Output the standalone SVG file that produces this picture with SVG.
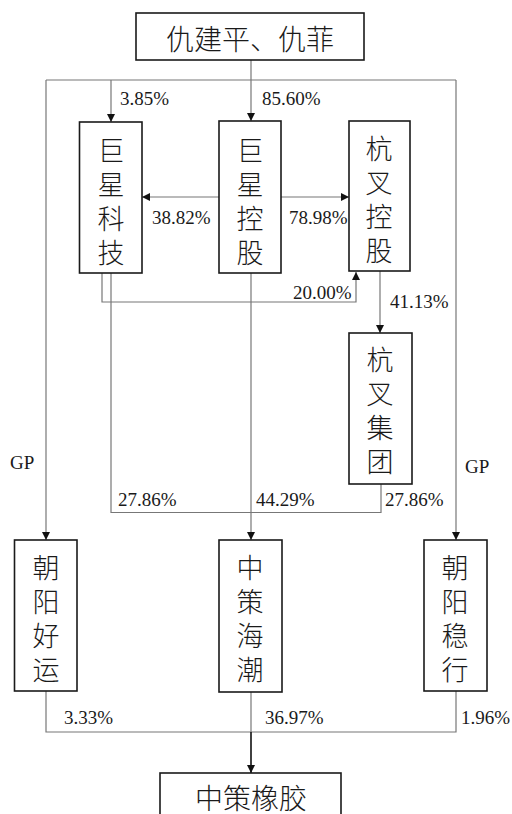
<svg xmlns="http://www.w3.org/2000/svg" width="512" height="814" viewBox="0 0 512 814">
<style>
.box{fill:#fff;stroke:#1a1a1a;stroke-width:1.6}
.cn{font-family:"Noto Sans CJK SC","Noto Sans",sans-serif;font-size:27px;font-weight:300;fill:#1a1a1a;text-anchor:middle;dominant-baseline:central}
.vt{font-family:"Noto Sans CJK SC","Noto Sans",sans-serif;font-size:27px;font-weight:300;fill:#1a1a1a;text-anchor:middle;writing-mode:vertical-rl;letter-spacing:7px}
.pct{font-family:"Liberation Serif",serif;font-size:19px;fill:#1a1a1a}
.ln{fill:none;stroke:#777;stroke-width:1.2}
.dk{fill:none;stroke:#111;stroke-width:1.6}
</style>
<defs>
<marker id="ar" viewBox="0 0 10 10" refX="10" refY="5" markerWidth="9" markerHeight="8" markerUnits="userSpaceOnUse" orient="auto">
<path d="M0,0 L10,5 L0,10 Z" fill="#111"/>
</marker>
</defs>
<rect width="512" height="814" fill="#fff"/>
<g id="connectors">
<path class="ln" d="M251 60 V121" marker-end="url(#ar)"/>
<path class="ln" d="M46 80 H456"/>
<path class="ln" d="M111 80 V122" marker-end="url(#ar)"/>
<path class="ln" d="M219 197 H142" marker-end="url(#ar)"/>
<path class="ln" d="M281 197 H349" marker-end="url(#ar)"/>
<path class="ln" d="M102 273 V302 H356 V272" marker-end="url(#ar)"/>
<path class="ln" d="M380 271 V333" marker-end="url(#ar)"/>
<path class="ln" d="M111 273 V512.5 H381 V484"/>
<path class="ln" d="M251 273 V540" marker-end="url(#ar)"/>
<path class="ln" d="M46 80 V540" marker-end="url(#ar)"/>
<path class="ln" d="M456 80 V540" marker-end="url(#ar)"/>
<path class="ln" d="M46 691 V732 H456 V691"/>
<path class="ln" d="M251 692 V732"/>
<path class="dk" d="M251 732 V773" marker-end="url(#ar)"/>
</g>
<g id="labels">
<text class="pct" x="120" y="105">3.85%</text>
<text class="pct" x="262" y="105">85.60%</text>
<text class="pct" x="152" y="224">38.82%</text>
<text class="pct" x="289" y="224">78.98%</text>
<text class="pct" x="293" y="299">20.00%</text>
<text class="pct" x="390" y="308">41.13%</text>
<text class="pct" x="10" y="469">GP</text>
<text class="pct" x="465" y="473">GP</text>
<text class="pct" x="118" y="506">27.86%</text>
<text class="pct" x="256" y="506">44.29%</text>
<text class="pct" x="385" y="506">27.86%</text>
<text class="pct" x="64" y="724">3.33%</text>
<text class="pct" x="265" y="724">36.97%</text>
<text class="pct" x="461" y="724">1.96%</text>
</g>
<g id="node-top">
<rect class="box" x="136" y="13" width="228" height="47"/>
<text class="cn" x="250" y="38" style="font-size:28px">仇建平、仇菲</text>
</g>
<g id="node-jxkj">
<rect class="box" x="79.5" y="122" width="62.5" height="151"/>
<text class="vt" x="111" y="205.5">巨星科技</text>
</g>
<g id="node-jxkg">
<rect class="box" x="219" y="121" width="62" height="152"/>
<text class="vt" x="250" y="205.5">巨星控股</text>
</g>
<g id="node-hckg">
<rect class="box" x="349" y="121" width="61" height="150"/>
<text class="vt" x="379" y="203.5">杭叉控股</text>
</g>
<g id="node-hcjt">
<rect class="box" x="349" y="333" width="63" height="151"/>
<text class="vt" x="380" y="414.5">杭叉集团</text>
</g>
<g id="node-cyhy">
<rect class="box" x="14.5" y="540" width="62.5" height="151"/>
<text class="vt" x="46" y="622">朝阳好运</text>
</g>
<g id="node-zchc">
<rect class="box" x="219" y="540" width="63" height="152"/>
<text class="vt" x="250" y="622">中策海潮</text>
</g>
<g id="node-cywx">
<rect class="box" x="424" y="540" width="63" height="151"/>
<text class="vt" x="455" y="622">朝阳稳行</text>
</g>
<g id="node-zcxj">
<rect class="box" x="160" y="773" width="181" height="50"/>
<text class="cn" x="251" y="797" style="font-size:28px">中策橡胶</text>
</g>
</svg>
